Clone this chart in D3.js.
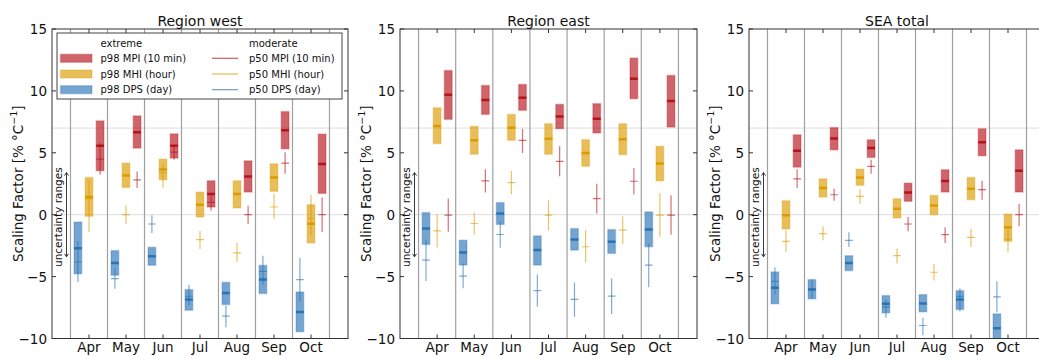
<!DOCTYPE html>
<html>
<head>
<meta charset="utf-8">
<script src="https://cdn.jsdelivr.net/npm/d3@7"></script>
<style>
  body { margin: 0; background: #fff; }
  svg { font-family: "DejaVu Sans", sans-serif; }
</style>
</head>
<body>
<svg id="chart" width="1039" height="359"></svg>
<script>
"use strict";

var months = ["Apr", "May", "Jun", "Jul", "Aug", "Sep", "Oct"];
var titles = ["Region west", "Region east", "SEA total"];
var yTicks = [15, 10, 5, 0, -5, -10];
var refLines = [0, 7];

// each row: [p98 low, p98 high, p98 median, p50 value, p50 low, p50 high]
var westDPS = [
    [-4.78, -0.59, -2.72, -3.82, -5.43, -2.15],
    [-4.89, -2.90, -3.90, -5.16, -5.99, -4.35],
    [-4.09, -2.63, -3.36, -0.75, -1.48, -0.05],
    [-7.72, -6.05, -6.85, -6.60, -7.30, -5.65],
    [-7.26, -5.46, -6.32, -8.20, -9.09, -7.34],
    [-6.37, -4.09, -5.24, -4.57, -5.65, -3.31],
    [-9.46, -6.24, -7.85, -5.24, -6.99, -3.49]
];
var westMHI = [
    [-0.13, 3.01, 1.42, 1.30, -1.40, 2.80],
    [2.20, 4.17, 3.17, 0.00, -0.75, 0.75],
    [2.82, 4.49, 3.66, 3.40, 2.15, 4.20],
    [-0.19, 1.83, 0.81, -2.02, -2.77, -1.29],
    [0.54, 2.74, 1.67, -3.09, -3.84, -2.28],
    [1.88, 4.11, 3.01, 0.62, -0.35, 1.67],
    [-2.28, 0.81, -0.73, -0.30, -1.61, 1.61]
];
var westMPI = [
    [3.55, 7.58, 5.56, 4.49, 3.23, 5.80],
    [5.38, 7.98, 6.67, 2.82, 2.15, 3.49],
    [4.57, 6.53, 5.56, 5.05, 4.44, 5.60],
    [0.62, 2.74, 1.67, 0.99, 0.32, 1.60],
    [1.83, 4.35, 3.09, 0.00, -0.75, 0.73],
    [5.32, 8.33, 6.83, 4.17, 3.31, 5.05],
    [1.72, 6.51, 4.09, 0.00, -1.40, 1.40]
];

var eastDPS = [
    [-2.41, 0.17, -1.12, -3.67, -5.36, -2.00],
    [-4.07, -2.06, -3.05, -4.96, -5.95, -3.94],
    [-0.79, 0.98, 0.09, -1.60, -2.67, -0.52],
    [-4.07, -1.71, -2.86, -6.14, -7.43, -4.83],
    [-2.86, -1.12, -2.00, -6.84, -8.24, -5.47],
    [-3.13, -1.20, -2.19, -6.57, -8.02, -5.15],
    [-2.59, 0.23, -1.20, -4.07, -5.87, -2.33]
];
var eastMHI = [
    [5.74, 8.64, 7.16, -1.30, -2.65, 0.04],
    [4.88, 7.14, 6.01, -0.71, -1.60, 0.17],
    [6.01, 8.10, 7.03, 2.59, 1.65, 3.53],
    [4.88, 7.35, 6.14, -0.04, -1.25, 1.17],
    [3.91, 6.06, 4.99, -2.59, -3.86, -1.25],
    [4.85, 7.35, 6.09, -1.25, -2.38, -0.12],
    [2.73, 5.52, 4.13, -0.04, -1.79, 1.76]
];
var eastMPI = [
    [7.70, 11.65, 9.69, -0.04, -1.38, 1.30],
    [8.10, 10.44, 9.26, 2.73, 1.79, 3.67],
    [8.43, 10.52, 9.45, 6.01, 4.99, 6.95],
    [6.95, 8.91, 7.94, 4.31, 3.10, 5.52],
    [6.60, 8.97, 7.76, 1.30, 0.09, 2.51],
    [9.37, 12.65, 10.98, 2.70, 1.63, 3.78],
    [7.08, 11.25, 9.18, -0.04, -1.60, 1.57]
];

var seaDPS = [
    [-7.20, -4.62, -5.91, -5.38, -6.45, -4.25],
    [-6.80, -5.24, -6.05, -6.00, -6.72, -5.24],
    [-4.52, -3.31, -3.90, -2.07, -2.61, -1.42],
    [-7.93, -6.53, -7.20, -7.47, -8.33, -6.85],
    [-7.85, -6.45, -7.18, -8.95, -9.73, -8.33],
    [-7.66, -6.13, -6.85, -6.60, -7.80, -5.97],
    [-10.40, -8.01, -9.17, -6.64, -7.88, -5.38]
];
var seaMHI = [
    [-1.16, 1.13, -0.05, -2.15, -3.01, -1.26],
    [1.42, 2.90, 2.15, -1.53, -2.07, -0.94],
    [2.37, 3.68, 3.01, 1.48, 0.89, 2.07],
    [-0.27, 1.29, 0.48, -3.31, -3.95, -2.74],
    [0.00, 1.56, 0.75, -4.65, -5.32, -3.98],
    [1.21, 3.01, 2.10, -1.83, -2.61, -1.13],
    [-2.15, 0.05, -1.02, -2.00, -3.04, -1.00]
];
var seaMPI = [
    [3.84, 6.45, 5.16, 2.90, 2.15, 3.68],
    [5.24, 7.04, 6.16, 1.61, 1.13, 2.10],
    [4.62, 6.05, 5.38, 3.90, 3.31, 4.44],
    [1.08, 2.55, 1.80, -0.75, -1.34, -0.19],
    [1.83, 3.63, 2.72, -1.61, -2.28, -1.02],
    [4.76, 6.94, 5.86, 2.02, 1.21, 2.74],
    [1.83, 5.24, 3.55, 0.00, -0.94, 0.89]
];

var panelData = [
    [westDPS, westMHI, westMPI],
    [eastDPS, eastMHI, eastMPI],
    [seaDPS, seaMHI, seaMPI]
];

// left to right inside a month: DPS, MHI, MPI
var seriesColors = ["#2a73b5", "#dc9b00", "#b6131a"];
var seriesOffsets = [0.2, 0.5, 0.8];
var extremeLabels = ["p98 MPI (10 min)", "p98 MHI (hour)", "p98 DPS (day)"];
var moderateLabels = ["p50 MPI (10 min)", "p50 MHI (hour)", "p50 DPS (day)"];

var panelX = [[52, 348], [400, 697], [749, 1045]];
var plotTop = 29, plotBottom = 338.5;
var boxW = 0.21;

var svg = d3.select("#chart");

var yScale = d3.scaleLinear().domain([-10, 15]).range([plotBottom, plotTop]);

function drawPanel(p) {
    var x0 = panelX[p][0], x1 = panelX[p][1];
    var xScale = d3.scaleLinear().domain([-0.5, 7.5]).range([x0, x1]);
    var g = svg.append("g");

    g.append("clipPath").attr("id", "clip" + p)
        .append("rect")
        .attr("x", x0).attr("y", plotTop)
        .attr("width", x1 - x0).attr("height", plotBottom - plotTop);

    // reference lines 0 and 7
    g.selectAll("line.ref").data(refLines).enter().append("line")
        .attr("x1", x0).attr("x2", x1)
        .attr("y1", function(d) { return yScale(d); })
        .attr("y2", function(d) { return yScale(d); })
        .attr("stroke", "#e4e4e4").attr("stroke-width", 1.2);

    // month separators
    g.selectAll("line.sep").data(d3.range(8)).enter().append("line")
        .attr("x1", function(d) { return xScale(d); })
        .attr("x2", function(d) { return xScale(d); })
        .attr("y1", plotTop).attr("y2", plotBottom)
        .attr("stroke", "#a0a0a0").attr("stroke-width", 1.2);

    var plot = g.append("g").attr("clip-path", "url(#clip" + p + ")");

    panelData[p].forEach(function(rows, s) {
        var color = seriesColors[s];
        var sg = plot.append("g");
        rows.forEach(function(r, i) {
            var cx = i + seriesOffsets[s];
            sg.append("rect")
                .attr("x", xScale(cx - boxW / 2))
                .attr("width", xScale(cx + boxW / 2) - xScale(cx - boxW / 2))
                .attr("y", yScale(r[1]))
                .attr("height", yScale(r[0]) - yScale(r[1]))
                .attr("fill", color).attr("fill-opacity", 0.65)
                .attr("stroke", color).attr("stroke-opacity", 0.25)
                .attr("stroke-width", 1.5);
            sg.append("line")
                .attr("x1", xScale(cx - boxW / 2)).attr("x2", xScale(cx + boxW / 2))
                .attr("y1", yScale(r[2])).attr("y2", yScale(r[2]))
                .attr("stroke", color).attr("stroke-width", 2.5);
            // moderate cross
            sg.append("line")
                .attr("x1", xScale(cx)).attr("x2", xScale(cx))
                .attr("y1", yScale(r[4])).attr("y2", yScale(r[5]))
                .attr("stroke", color).attr("stroke-opacity", 0.6)
                .attr("stroke-width", 1.2);
            sg.append("line")
                .attr("x1", xScale(cx - boxW / 2)).attr("x2", xScale(cx + boxW / 2))
                .attr("y1", yScale(r[3])).attr("y2", yScale(r[3]))
                .attr("stroke", color).attr("stroke-opacity", 0.6)
                .attr("stroke-width", 1.2);
        });
    });

    // frame
    g.append("rect")
        .attr("x", x0).attr("y", plotTop)
        .attr("width", x1 - x0).attr("height", plotBottom - plotTop)
        .attr("fill", "none").attr("stroke", "#333").attr("stroke-width", 1);

    // y ticks inward on both sides
    yTicks.forEach(function(t) {
        var y = yScale(t);
        g.append("line").attr("x1", x0).attr("x2", x0 + 4)
            .attr("y1", y).attr("y2", y).attr("stroke", "#333");
        g.append("line").attr("x1", x1 - 4).attr("x2", x1)
            .attr("y1", y).attr("y2", y).attr("stroke", "#333");
        g.append("text")
            .attr("x", x0 - 5).attr("y", y)
            .attr("text-anchor", "end").attr("dominant-baseline", "central")
            .attr("font-size", 13.5).attr("fill", "#111")
            .text(d3.format("")(t).replace("-", "\u2212"));
    });

    // x ticks at month centres
    months.forEach(function(m, i) {
        var x = xScale(i + 0.5);
        g.append("line").attr("x1", x).attr("x2", x)
            .attr("y1", plotBottom).attr("y2", plotBottom - 4).attr("stroke", "#333");
        g.append("line").attr("x1", x).attr("x2", x)
            .attr("y1", plotTop).attr("y2", plotTop + 4).attr("stroke", "#333");
        g.append("text")
            .attr("x", x).attr("y", 351.5)
            .attr("text-anchor", "middle")
            .attr("font-size", 13.5).attr("fill", "#111")
            .text(m);
    });

    g.append("text")
        .attr("x", (x0 + x1) / 2).attr("y", 26)
        .attr("text-anchor", "middle")
        .attr("font-size", 14).attr("fill", "#111")
        .text(titles[p]);

    var yl = g.append("text")
        .attr("transform", "translate(" + (x0 - 34) + "," + ((plotTop + plotBottom) / 2) + ") rotate(-90)")
        .attr("text-anchor", "middle").attr("dominant-baseline", "central")
        .attr("font-size", 13.5).attr("fill", "#111");
    yl.append("tspan").text("Scaling Factor [%  \u00b0C");
    yl.append("tspan").attr("dy", -5).attr("font-size", 9.5).text("\u22121");
    yl.append("tspan").attr("dy", 5).text("]");

    // uncertainty arrow
    var ax = x0 + 14.5;
    g.append("line")
        .attr("x1", ax).attr("x2", ax)
        .attr("y1", yScale(3.4)).attr("y2", yScale(-3.4))
        .attr("stroke", "#222").attr("stroke-width", 0.9);
    [[3.4, 1], [-3.4, -1]].forEach(function(a) {
        var y = yScale(a[0]);
        g.append("path")
            .attr("d", "M" + (ax - 2) + "," + (y + 3 * a[1]) + " L" + ax + "," + y + " L" + (ax + 2) + "," + (y + 3 * a[1]))
            .attr("fill", "none").attr("stroke", "#222").attr("stroke-width", 0.9);
    });
    g.append("text")
        .attr("transform", "translate(" + (x0 + 6) + "," + yScale(-0.2) + ") rotate(-90)")
        .attr("text-anchor", "middle").attr("dominant-baseline", "central")
        .attr("font-size", 10.5).attr("fill", "#111")
        .text("uncertainty ranges");
}

for (var p = 0; p < 3; p++) {
    drawPanel(p);
}

// legend in first panel
var lg = svg.append("g");
lg.append("rect")
    .attr("x", 57).attr("y", 33).attr("width", 285).attr("height", 66)
    .attr("fill", "#fff").attr("stroke", "#444").attr("stroke-width", 1);
lg.append("text").attr("x", 100.5).attr("y", 43).attr("dominant-baseline", "central")
    .attr("font-size", 10).attr("fill", "#111").text("extreme");
lg.append("text").attr("x", 249).attr("y", 43).attr("dominant-baseline", "central")
    .attr("font-size", 10).attr("fill", "#111").text("moderate");
[2, 1, 0].forEach(function(s, k) {
    var y = 58.3 + k * 15.7;
    lg.append("rect").attr("x", 60.5).attr("y", y - 4).attr("width", 31.5).attr("height", 8)
        .attr("fill", seriesColors[s]).attr("fill-opacity", 0.65)
        .attr("stroke", seriesColors[s]).attr("stroke-opacity", 0.25).attr("stroke-width", 1.5);
    lg.append("text").attr("x", 100.5).attr("y", y).attr("dominant-baseline", "central")
        .attr("font-size", 10).attr("fill", "#111").text(extremeLabels[k]);
    lg.append("line").attr("x1", 212).attr("x2", 238).attr("y1", y).attr("y2", y)
        .attr("stroke", seriesColors[s]).attr("stroke-opacity", 0.7).attr("stroke-width", 1.2);
    lg.append("text").attr("x", 249).attr("y", y).attr("dominant-baseline", "central")
        .attr("font-size", 10).attr("fill", "#111").text(moderateLabels[k]);
});
</script>
</body>
</html>
